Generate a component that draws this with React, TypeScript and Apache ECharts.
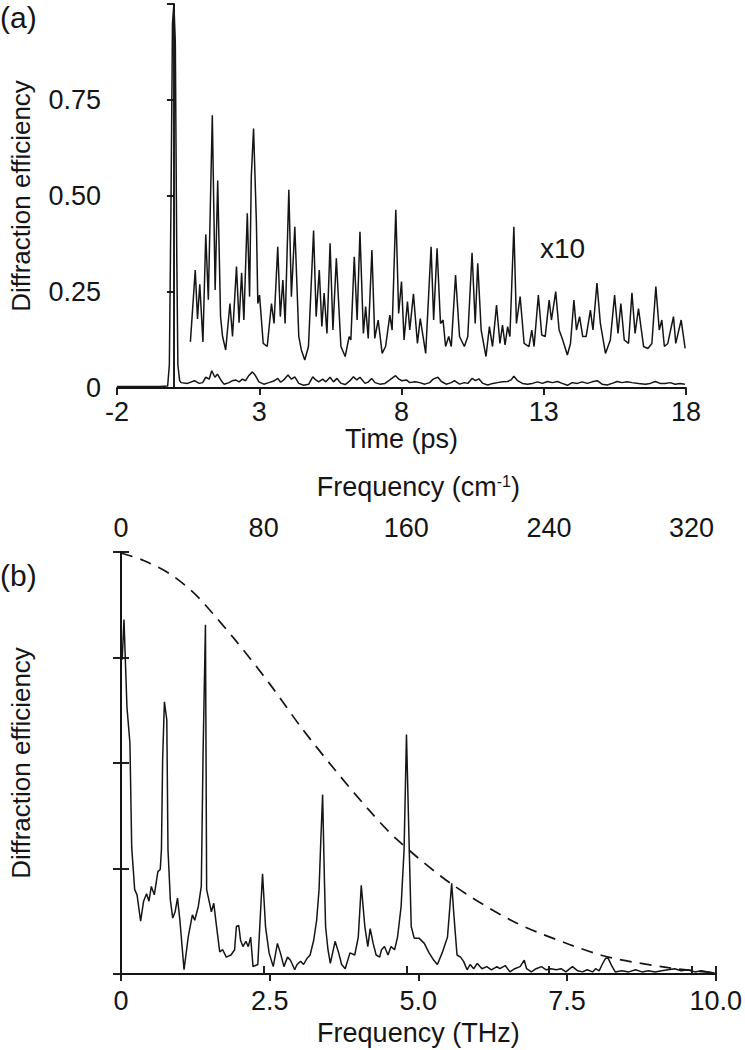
import React, { useEffect, useRef } from "react";
import * as echarts from "echarts";

// ---------- Panel (a): time-domain signal ----------
const timeMain = [
  -2, -1.5, -1, -0.5, -0.22, -0.16, -0.1, -0.05, 0, 0.05, 0.1, 0.14, 0.2, 0.25,
  0.48, 0.72, 0.89, 1.01, 1.12, 1.24, 1.33, 1.44, 1.53, 1.65, 1.76, 1.94, 2.06,
  2.17, 2.29, 2.41, 2.52, 2.62, 2.76, 2.85, 2.99, 3.16, 3.34, 3.51, 3.65, 3.75,
  3.86, 4.01, 4.13, 4.25, 4.39, 4.56, 4.74, 4.88, 4.99, 5.09, 5.23, 5.34, 5.49,
  5.61, 5.73, 5.88, 6.02, 6.19, 6.31, 6.43, 6.54, 6.72, 6.84, 6.95, 7.07, 7.24,
  7.42, 7.59, 7.79, 7.91, 8.02, 8.17, 8.29, 8.47, 8.64, 8.82, 8.99, 9.11, 9.28,
  9.4, 9.57, 9.75, 9.86, 10.04, 10.21, 10.33, 10.48, 10.6, 10.72, 10.86, 11.03,
  11.21, 11.38, 11.55, 11.73, 11.85, 11.95, 12.08, 12.25, 12.43, 12.6, 12.78,
  12.95, 13.13, 13.3, 13.48, 13.65, 13.83, 14.0, 14.18, 14.35, 14.53, 14.7,
  14.88, 15.05, 15.23, 15.4, 15.58, 15.75, 15.93, 16.1, 16.33, 16.57, 16.74,
  16.92, 17.09, 17.27, 17.44, 17.62, 17.79, 17.96,
];
const effMain = [
  0.004, 0.004, 0.004, 0.004, 0.005, 0.06, 0.5, 0.95, 1.0, 0.9, 0.35, 0.06, 0.02,
  0.014, 0.012, 0.019, 0.012, 0.014, 0.028, 0.023, 0.045, 0.028, 0.036, 0.021,
  0.01, 0.014, 0.019, 0.021, 0.016, 0.023, 0.019, 0.031, 0.042, 0.034, 0.016,
  0.01, 0.014, 0.018, 0.025, 0.015, 0.021, 0.034, 0.023, 0.029, 0.012, 0.007,
  0.01, 0.029, 0.021, 0.016, 0.023, 0.016, 0.028, 0.016, 0.025, 0.012, 0.009,
  0.019, 0.029, 0.021, 0.028, 0.012, 0.016, 0.025, 0.014, 0.01, 0.012, 0.021,
  0.032, 0.023, 0.019, 0.021, 0.014, 0.016, 0.014, 0.01, 0.014, 0.023, 0.028,
  0.017, 0.01, 0.014, 0.019, 0.01, 0.014, 0.012, 0.025, 0.019, 0.024, 0.012,
  0.008, 0.012, 0.014, 0.016, 0.017, 0.021, 0.031, 0.019, 0.012, 0.01, 0.012,
  0.016, 0.012, 0.017, 0.014, 0.017, 0.012, 0.007, 0.014, 0.012, 0.016, 0.012,
  0.016, 0.019, 0.01, 0.008, 0.012, 0.017, 0.014, 0.016, 0.014, 0.012, 0.01,
  0.012, 0.017, 0.012, 0.012, 0.014, 0.01, 0.012, 0.01,
];

const timeX10 = [
  0.58, 0.75, 0.83, 0.91, 1.02, 1.12, 1.21, 1.35, 1.45, 1.54, 1.64, 1.71, 1.82,
  1.97, 2.06, 2.2, 2.29, 2.38, 2.46, 2.58, 2.66, 2.72, 2.8, 2.9, 2.95, 3.01,
  3.14, 3.28, 3.43, 3.52, 3.65, 3.74, 3.83, 3.91, 4.04, 4.13, 4.25, 4.39, 4.48,
  4.6, 4.73, 4.91, 5.0, 5.11, 5.2, 5.28, 5.38, 5.49, 5.59, 5.71, 5.87, 6.02,
  6.16, 6.22, 6.34, 6.44, 6.54, 6.66, 6.74, 6.83, 6.96, 7.06, 7.18, 7.32, 7.44,
  7.59, 7.67, 7.8, 7.9, 8.0, 8.09, 8.21, 8.29, 8.42, 8.56, 8.66, 8.85, 9.04,
  9.13, 9.25, 9.37, 9.46, 9.55, 9.66, 9.75, 9.9, 10.04, 10.21, 10.33, 10.48,
  10.59, 10.68, 10.8, 10.97, 11.09, 11.2, 11.34, 11.46, 11.55, 11.64, 11.73,
  11.81, 11.95, 12.04, 12.17, 12.31, 12.48, 12.58, 12.66, 12.81, 12.93, 13.05,
  13.19, 13.27, 13.42, 13.54, 13.65, 13.83, 13.94, 14.06, 14.15, 14.26, 14.37,
  14.49, 14.64, 14.73, 14.87, 14.99, 15.17, 15.34, 15.49, 15.61, 15.71, 15.83,
  15.98, 16.1, 16.21, 16.33, 16.51, 16.66, 16.8, 16.94, 17.06, 17.15, 17.24,
  17.36, 17.56, 17.64, 17.83, 17.97,
];
const effX10 = [
  0.12, 0.307, 0.18, 0.27, 0.12, 0.4, 0.23, 0.71, 0.255, 0.54, 0.186, 0.134,
  0.099, 0.22, 0.134, 0.316, 0.17, 0.3, 0.177, 0.455, 0.238, 0.55, 0.676, 0.43,
  0.22, 0.242, 0.116, 0.108, 0.22, 0.168, 0.368, 0.186, 0.281, 0.168, 0.516,
  0.238, 0.42, 0.134, 0.099, 0.073, 0.108, 0.41, 0.186, 0.307, 0.16, 0.247,
  0.142, 0.377, 0.151, 0.338, 0.108, 0.082, 0.134, 0.125, 0.342, 0.177, 0.407,
  0.142, 0.212, 0.129, 0.359, 0.129, 0.177, 0.09, 0.108, 0.19, 0.151, 0.464,
  0.194, 0.277, 0.125, 0.225, 0.151, 0.245, 0.116, 0.181, 0.09, 0.368, 0.177,
  0.364, 0.168, 0.177, 0.108, 0.134, 0.108, 0.294, 0.134, 0.108, 0.134, 0.352,
  0.168, 0.325, 0.151, 0.082, 0.16, 0.108, 0.216, 0.116, 0.164, 0.112, 0.16,
  0.134, 0.42, 0.168, 0.238, 0.116, 0.108, 0.151, 0.108, 0.242, 0.138, 0.134,
  0.229, 0.177, 0.251, 0.151, 0.129, 0.086, 0.116, 0.229, 0.151, 0.186, 0.134,
  0.134, 0.203, 0.151, 0.273, 0.168, 0.09, 0.125, 0.242, 0.142, 0.22, 0.125,
  0.116, 0.248, 0.142, 0.207, 0.108, 0.103, 0.116, 0.264, 0.151, 0.177, 0.108,
  0.116, 0.186, 0.116, 0.177, 0.103,
];

// ---------- Panel (b): spectrum ----------
const freqSpec = [
  0.02, 0.05, 0.1, 0.15, 0.18, 0.23, 0.27, 0.33, 0.38, 0.43, 0.47, 0.51, 0.56,
  0.62, 0.66, 0.68, 0.7, 0.73, 0.77, 0.79, 0.83, 0.87, 0.91, 0.95, 0.99, 1.06,
  1.13, 1.2, 1.24, 1.3, 1.35, 1.38, 1.42, 1.44, 1.49, 1.52, 1.56, 1.6, 1.66,
  1.71, 1.77, 1.85, 1.91, 1.94, 1.98, 2.01, 2.05, 2.1, 2.14, 2.18, 2.22, 2.3,
  2.38, 2.43, 2.49, 2.56, 2.63, 2.68, 2.74, 2.8, 2.85, 2.92, 2.96, 3.02, 3.07,
  3.13, 3.18, 3.24, 3.29, 3.33, 3.36, 3.39, 3.42, 3.44, 3.48, 3.52, 3.6, 3.66,
  3.71, 3.77, 3.85, 3.93, 3.99, 4.04, 4.1, 4.15, 4.19, 4.24, 4.29, 4.35, 4.38,
  4.43, 4.49, 4.54, 4.6, 4.65, 4.71, 4.76, 4.8, 4.85, 4.88, 4.93, 5.01, 5.1,
  5.18, 5.26, 5.32, 5.4, 5.49, 5.53, 5.56, 5.6, 5.65, 5.71, 5.76, 5.82, 5.87,
  5.93, 5.99, 6.07, 6.15, 6.23, 6.32, 6.37, 6.46, 6.54, 6.62, 6.71, 6.78, 6.82,
  6.9, 6.98, 7.07, 7.15, 7.23, 7.32, 7.4, 7.48, 7.59, 7.68, 7.76, 7.84, 7.93,
  7.98, 8.04, 8.09, 8.15, 8.19, 8.25, 8.31, 8.42, 8.54, 8.65, 8.76, 8.87, 8.98,
  9.09, 9.2, 9.31, 9.42, 9.53, 9.65, 9.76, 9.87, 9.98,
];
const ampSpec = [
  2.98, 3.36, 2.53, 2.19, 1.2, 0.8, 0.75, 0.5, 0.69, 0.76, 0.69, 0.83, 0.75,
  0.97, 0.99, 1.18, 2.03, 2.58, 2.41, 1.18, 0.7, 0.53, 0.59, 0.72, 0.51, 0.04,
  0.35, 0.56, 0.51, 0.64, 0.83, 2.09, 3.31, 0.8, 0.67, 0.59, 0.67, 0.48, 0.21,
  0.23, 0.16, 0.18, 0.23, 0.45, 0.46, 0.32, 0.26, 0.31, 0.26, 0.35, 0.07, 0.09,
  0.95, 0.45, 0.2, 0.07, 0.29, 0.2, 0.07, 0.16, 0.13, 0.04, 0.09, 0.12, 0.09,
  0.15, 0.18, 0.32, 0.51, 0.8, 1.27, 1.7, 0.9, 0.45, 0.23, 0.1, 0.31, 0.2,
  0.09, 0.05, 0.2, 0.18, 0.35, 0.84, 0.45, 0.26, 0.43, 0.29, 0.18, 0.16, 0.23,
  0.26, 0.18, 0.26, 0.23, 0.35, 0.64, 1.18, 2.27, 1.11, 0.45, 0.34, 0.34, 0.29,
  0.2, 0.13, 0.09, 0.2, 0.35, 0.64, 0.86, 0.54, 0.18, 0.16, 0.12, 0.04, 0.09,
  0.05, 0.1, 0.05, 0.07, 0.04, 0.07, 0.05, 0.08, 0.02, 0.05, 0.07, 0.13, 0.05,
  0.02, 0.05, 0.07, 0.04, 0.05, 0.04, 0.05, 0.02, 0.07, 0.03, 0.02, 0.04, 0.02,
  0.05, 0.03, 0.09, 0.15, 0.15, 0.08, 0.02, 0.03, 0.02, 0.04, 0.02, 0.03, 0.02,
  0.03, 0.04, 0.05, 0.03, 0.04, 0.02, 0.03, 0.02, 0.01,
];
const freqEnv = [
  0, 0.38, 0.83, 1.21, 1.43, 1.93, 2.5, 3.04, 3.59, 4.16, 4.63, 5.54, 6.59,
  7.54, 8.2, 9.2, 10,
];
const ampEnv = [
  3.99, 3.92, 3.79, 3.62, 3.49, 3.16, 2.75, 2.33, 1.94, 1.56, 1.28, 0.86, 0.5,
  0.28, 0.16, 0.06, 0.01,
];

// tick labels
const effTickLabels: Record<string, string> = { "0": "0", "0.25": "0.25", "0.5": "0.50", "0.75": "0.75" };
const thzTickLabels: Record<string, string> = { "0": "0", "2.5": "2.5", "5": "5.0", "7.5": "7.5", "10": "10.0" };
const cmTickLabels = ["0", "80", "160", "240", "320"];
const THZ_TO_CM = 33.356;

const zip = (xs: number[], ys: number[]) => xs.map((x, i) => [x, ys[i]]);

const INK = "#151515";
const FONT = "'Liberation Sans', Arial, Helvetica, sans-serif";
const TICK_FS = 27;
const NAME_FS = 27;

export default function App() {
  const ref = useRef<HTMLDivElement>(null);
  useEffect(() => {
    if (!ref.current) return;
    const chart = echarts.init(ref.current, undefined, { renderer: "svg" });
    const axisLine = { show: true, lineStyle: { color: INK, width: 1.9 } };
    const axisTick = { show: true, length: 7, lineStyle: { color: INK, width: 1.9 } };
    const tickText = { fontSize: TICK_FS, color: INK, fontFamily: FONT };
    const nameText = { fontSize: NAME_FS, color: INK, fontFamily: FONT };
    const option: any = {
      animation: false,
      backgroundColor: "#ffffff",
      textStyle: { fontFamily: FONT, color: INK },
      grid: [
        { left: 114, top: 4, width: 572, height: 384 },
        { left: 117, top: 552, width: 601, height: 422 },
      ],
      xAxis: [
        {
          gridIndex: 0, type: "value", min: -2, max: 18, interval: 5, position: "bottom",
          axisLine, axisTick, splitLine: { show: false },
          axisLabel: { ...tickText, margin: 10 },
          name: "Time (ps)", nameLocation: "middle", nameGap: 35,
          nameTextStyle: nameText,
        },
        {
          gridIndex: 1, type: "value", min: 0, max: 10, interval: 2.5, position: "bottom",
          axisLine, axisTick, splitLine: { show: false },
          axisLabel: { ...tickText, margin: 13, formatter: (v: number) => thzTickLabels[String(v)] ?? "" },
          name: "Frequency (THz)", nameLocation: "middle", nameGap: 45,
          nameTextStyle: nameText,
        },
        {
          gridIndex: 1, type: "value", min: 0, max: 10 * THZ_TO_CM, interval: 80, position: "top",
          axisLine, axisTick: { ...axisTick, length: 8 }, splitLine: { show: false },
          axisLabel: {
            ...tickText, margin: 11,
            formatter: (v: number) => (cmTickLabels.includes(String(v)) ? String(v) : ""),
          },
          name: "Frequency (cm{sup|-1})", nameLocation: "middle", nameGap: 51,
          nameTextStyle: {
            ...nameText,
            rich: { sup: { fontSize: 16, color: INK, fontFamily: FONT, verticalAlign: "top", padding: [0, 0, 12, 0] } },
          },
        },
      ],
      yAxis: [
        {
          gridIndex: 0, type: "value", min: 0, max: 1, interval: 0.25,
          axisLine, axisTick, splitLine: { show: false },
          axisLabel: { ...tickText, margin: 16, formatter: (v: number) => effTickLabels[String(v)] ?? "" },
          name: "Diffraction efficiency", nameLocation: "middle", nameRotate: 90, nameGap: 83,
          nameTextStyle: { ...nameText, fontSize: 26 },
        },
        {
          gridIndex: 1, type: "value", min: 0, max: 4, interval: 1, position: "left",
          axisLine, axisTick: { ...axisTick, length: 8 }, splitLine: { show: false },
          axisLabel: { show: false },
          name: "Diffraction efficiency", nameLocation: "middle", nameRotate: 90, nameGap: 87,
          nameTextStyle: { ...nameText, fontSize: 26 },
        },
        {
          gridIndex: 1, type: "value", min: 0, max: 4, interval: 1, position: "right",
          axisLine, axisTick: { ...axisTick, length: 8 }, splitLine: { show: false },
          axisLabel: { show: false },
        },
      ],
      series: [
        {
          type: "line", xAxisIndex: 0, yAxisIndex: 0, data: zip(timeMain, effMain),
          showSymbol: false, lineStyle: { color: INK, width: 1.5 }, silent: true,
        },
        {
          type: "line", xAxisIndex: 0, yAxisIndex: 0, data: zip(timeX10, effX10),
          showSymbol: false, lineStyle: { color: INK, width: 1.5 }, silent: true,
        },
        {
          type: "line", xAxisIndex: 1, yAxisIndex: 1, data: zip(freqSpec, ampSpec),
          showSymbol: false, lineStyle: { color: INK, width: 1.5 }, silent: true,
        },
        {
          type: "line", xAxisIndex: 1, yAxisIndex: 1, data: zip(freqEnv, ampEnv),
          showSymbol: false, smooth: 0.3, lineStyle: { color: INK, width: 1.7, type: [12, 8] }, silent: true,
        },
      ],
      graphic: [
        { type: "text", left: 0, top: 2, style: { text: "(a)", fontSize: 30, fill: INK, fontFamily: FONT } },
        { type: "text", left: 0, top: 560, style: { text: "(b)", fontSize: 30, fill: INK, fontFamily: FONT } },
        { type: "text", left: 540, top: 234, style: { text: "x10", fontSize: 28, fill: INK, fontFamily: FONT } },
      ],
    };
    chart.setOption(option);
    return () => chart.dispose();
  }, []);
  return (
    <div
      ref={ref}
      style={{ position: "absolute", left: 0, top: 0, width: 745, height: 1050, background: "#fff" }}
    />
  );
}
